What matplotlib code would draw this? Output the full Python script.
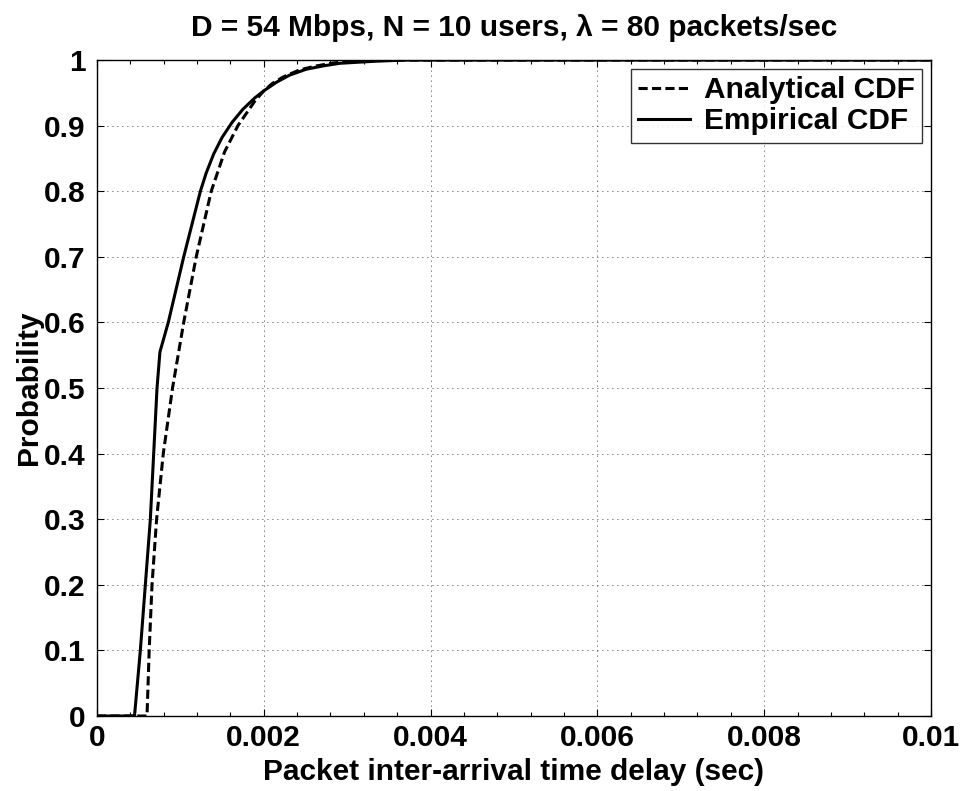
import matplotlib
matplotlib.use("Agg")
import matplotlib.pyplot as plt
from matplotlib.ticker import MultipleLocator

# Empirical CDF (solid)
emp_x = [0, 0.00045, 0.00052, 0.00058, 0.00064, 0.00068, 0.00072, 0.000755,
         0.000855, 0.00104, 0.00124, 0.00131, 0.0014, 0.0015, 0.00162,
         0.00175, 0.00189, 0.0020, 0.00215, 0.00231, 0.00251, 0.00271,
         0.00291, 0.00331, 0.0037, 0.01]
emp_y = [0, 0, 0.1, 0.2, 0.3, 0.4, 0.5, 0.555,
         0.6, 0.7, 0.8, 0.828, 0.857, 0.882, 0.905,
         0.925, 0.942, 0.953, 0.966, 0.977, 0.986, 0.991,
         0.995, 0.998, 1.0, 1.0]

# Analytical CDF (dashed)
ana_x = [0, 0.0006, 0.000626, 0.00066, 0.000715, 0.000795, 0.000906,
         0.00104, 0.00119, 0.00137, 0.00153, 0.00169, 0.00189, 0.0020,
         0.0021, 0.00223, 0.00243, 0.00263, 0.00283, 0.00303, 0.0033, 0.01]
ana_y = [0, 0, 0.1, 0.2, 0.3, 0.4, 0.5,
         0.6, 0.7, 0.8, 0.86, 0.9, 0.937, 0.953,
         0.964, 0.974, 0.985, 0.991, 0.9955, 0.998, 1.0, 1.0]

x_ticks = [0, 0.002, 0.004, 0.006, 0.008, 0.01]
x_tick_labels = ["0", "0.002", "0.004", "0.006", "0.008", "0.01"]
y_ticks = [0, 0.1, 0.2, 0.3, 0.4, 0.5, 0.6, 0.7, 0.8, 0.9, 1]
y_tick_labels = ["0", "0.1", "0.2", "0.3", "0.4", "0.5", "0.6", "0.7", "0.8", "0.9", "1"]

plt.rcParams['font.family'] = ['Liberation Sans', 'DejaVu Sans']
plt.rcParams['font.weight'] = 'bold'
FS = 21.5

fig = plt.figure(figsize=(9.61, 7.91), dpi=100)
fig.patch.set_facecolor('white')
ax = fig.add_axes([0.1009, 0.0948, 0.8679, 0.8293])

ax.plot(ana_x, ana_y, color='black', linewidth=2.2, linestyle=(0, (3.0, 1.4)),
        label='Analytical CDF')
ax.plot(emp_x, emp_y, color='black', linewidth=2.2, label='Empirical CDF')

ax.set_xlim(0, 0.01)
ax.set_ylim(0, 1)
ax.set_xticks(x_ticks)
ax.set_xticklabels(x_tick_labels)
ax.set_yticks(y_ticks)
ax.set_yticklabels(y_tick_labels)
ax.xaxis.set_minor_locator(MultipleLocator(0.0004))

ax.tick_params(which='both', direction='in', top=True, right=True,
               labelsize=FS, width=0.8)
ax.tick_params(axis='x', pad=6)
ax.tick_params(axis='y', pad=8)
ax.tick_params(which='major', length=5)
ax.tick_params(which='minor', length=3)
for lbl in ax.get_xticklabels() + ax.get_yticklabels():
    lbl.set_fontweight('bold')

ax.grid(True, which='major', color='black', linestyle=(0, (1, 5)), linewidth=0.6)
for sp in ax.spines.values():
    sp.set_linewidth(1.0)

ax.set_xlabel('Packet inter-arrival time delay (sec)', fontsize=FS,
              fontweight='bold', labelpad=4)
ax.set_ylabel('Probability', fontsize=FS, fontweight='bold', labelpad=1)
ax.set_title('D = 54 Mbps, N = 10 users, λ = 80 packets/sec', fontsize=FS,
             fontweight='bold', pad=17)

leg = ax.legend(loc='upper right', fontsize=FS, frameon=True, fancybox=False,
                borderaxespad=0.3, handlelength=1.75, handletextpad=0.45,
                labelspacing=0.1, borderpad=0.25)
leg.get_frame().set_edgecolor('black')
leg.get_frame().set_linewidth(1.0)
for t in leg.get_texts():
    t.set_fontweight('bold')

fig.savefig('out.png', dpi=100, facecolor='white')
